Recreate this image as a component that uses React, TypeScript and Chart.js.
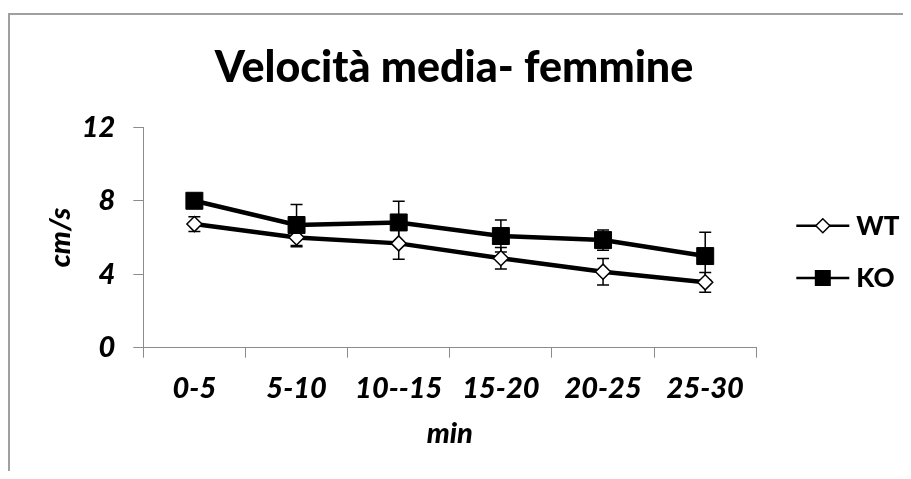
import React, { useEffect, useRef } from 'react';
import { Chart, registerables } from 'chart.js';

Chart.register(...registerables);

// ---- data ----
const categories = ['0-5', '5-10', '10--15', '15-20', '20-25', '25-30'];
const seriesNames = ['WT', 'KO'];
const wtValues = [6.73, 6.0, 5.68, 4.87, 4.14, 3.56];
const wtErrors = [0.4, 0.5, 0.87, 0.58, 0.72, 0.54];
const koValues = [8.0, 6.68, 6.82, 6.08, 5.86, 4.99];
const koErrors = [0.3, 1.12, 1.16, 0.87, 0.55, 1.3];
const yTickValues = [0, 4, 8, 12];
const titleText = 'Velocità media- femmine';
const xTitleText = 'min';
const yTitleText = 'cm/s';

const errorSets = [wtErrors, koErrors];

const AXIS_GRAY = '#8c8c8c';
const FONT = 'Lato';
const HEAVY = '900';

const errorBarPlugin = {
  id: 'errorBars',
  beforeDatasetsDraw(chart: any) {
    const ctx = chart.ctx;
    const yScale = chart.scales.y;
    ctx.save();
    ctx.strokeStyle = '#000';
    ctx.lineWidth = 1.5;
    chart.data.datasets.forEach((ds: any, di: number) => {
      const meta = chart.getDatasetMeta(di);
      const errs = errorSets[di];
      meta.data.forEach((pt: any, i: number) => {
        const v = ds.data[i];
        const e = errs[i];
        const top = yScale.getPixelForValue(v + e);
        const bot = yScale.getPixelForValue(v - e);
        const x = pt.x;
        ctx.beginPath();
        ctx.moveTo(x, top);
        ctx.lineTo(x, bot);
        ctx.moveTo(x - 6, top);
        ctx.lineTo(x + 6, top);
        ctx.moveTo(x - 6, bot);
        ctx.lineTo(x + 6, bot);
        ctx.stroke();
      });
    });
    ctx.restore();
  },
};

const sideLegendPlugin = {
  id: 'sideLegend',
  afterDraw(chart: any) {
    const ctx = chart.ctx;
    const s = chart.scales.legendSpace;
    const area = chart.chartArea;
    const cy = (area.top + area.bottom) / 2;
    const rows = [cy - 11.7, cy + 40.5];
    const x0 = s.left + 40;
    const x1 = x0 + 53;
    const mx = (x0 + x1) / 2;
    ctx.save();
    chart.data.datasets.forEach((ds: any, i: number) => {
      const yy = rows[i];
      ctx.strokeStyle = '#000';
      ctx.lineWidth = 2.5;
      ctx.beginPath();
      ctx.moveTo(x0, yy);
      ctx.lineTo(x1, yy);
      ctx.stroke();
      ctx.beginPath();
      if (ds.pointStyle === 'rectRot') {
        const r = 7;
        ctx.moveTo(mx - r, yy);
        ctx.lineTo(mx, yy - r);
        ctx.lineTo(mx + r, yy);
        ctx.lineTo(mx, yy + r);
        ctx.closePath();
        ctx.fillStyle = '#fff';
        ctx.fill();
        ctx.lineWidth = 1.5;
        ctx.stroke();
      } else {
        const h = 8;
        ctx.rect(mx - h, yy - h, 2 * h, 2 * h);
        ctx.fillStyle = '#000';
        ctx.fill();
      }
      ctx.fillStyle = '#000';
      ctx.font = `${HEAVY} 26px ${FONT}`;
      ctx.textBaseline = 'middle';
      ctx.textAlign = 'left';
      ctx.fillText(ds.label, x1 + 7, yy + 1);
    });
    ctx.restore();
  },
};

export default function App() {
  const ref = useRef<HTMLCanvasElement>(null);

  useEffect(() => {
    const tickFont = { family: FONT, size: 29, style: 'italic' as const, weight: HEAVY, lineHeight: 1.2 };
    const chart = new Chart(ref.current as HTMLCanvasElement, {
      type: 'line',
      data: {
        labels: categories,
        datasets: [
          {
            label: seriesNames[0],
            data: wtValues,
            borderColor: '#000',
            borderWidth: 4.5,
            pointStyle: 'rectRot',
            pointRadius: 7.5,
            pointBackgroundColor: '#fff',
            pointBorderColor: '#000',
            pointBorderWidth: 1.5,
            tension: 0,
            order: 1,
          },
          {
            label: seriesNames[1],
            data: koValues,
            borderColor: '#000',
            borderWidth: 4.5,
            pointStyle: 'rect',
            pointRadius: 12,
            pointBackgroundColor: '#000',
            pointBorderColor: '#000',
            pointBorderWidth: 1,
            tension: 0,
            order: 0,
          },
        ],
      },
      options: {
        animation: false,
        responsive: false,
        devicePixelRatio: 1,
        layout: { padding: { top: 0, right: 5, bottom: 0, left: 0 } },
        plugins: {
          legend: { display: false },
          tooltip: { enabled: false },
          title: {
            display: true,
            text: titleText,
            color: '#000',
            font: { family: FONT, size: 43, weight: HEAVY, lineHeight: 1.2 },
            padding: { top: 27, bottom: 33.7 },
          },
        },
        scales: {
          x: {
            type: 'category',
            offset: true,
            grid: { offset: true, drawOnChartArea: false, drawTicks: true, tickLength: 10, color: AXIS_GRAY, lineWidth: 1 },
            border: { display: true, color: AXIS_GRAY, width: 1 },
            ticks: { color: '#000', font: tickFont, padding: 13.3, maxRotation: 0, autoSkip: false },
            title: { display: true, text: xTitleText, color: '#000', font: tickFont, padding: { top: 0, bottom: 20 } },
            afterFit(scale: any) {
              scale.height = 123.3;
            },
          },
          y: {
            type: 'linear',
            position: 'left',
            min: 0,
            max: 12,
            afterBuildTicks(scale: any) {
              scale.ticks = yTickValues.map((v) => ({ value: v }));
            },
            grid: { drawOnChartArea: false, drawTicks: true, tickLength: 10, color: AXIS_GRAY, lineWidth: 1 },
            border: { display: true, color: AXIS_GRAY, width: 1 },
            ticks: { color: '#000', font: tickFont, padding: 18 },
            title: { display: true, text: yTitleText, color: '#000', font: tickFont, padding: { top: 33, bottom: 0 } },
            afterFit(scale: any) {
              scale.width = 133.3;
            },
          },
          legendSpace: {
            type: 'linear',
            position: 'right',
            display: true,
            grid: { display: false, drawTicks: false },
            border: { display: false },
            ticks: { display: false },
            afterFit(scale: any) {
              scale.width = 141.7;
            },
          },
        },
      },
      plugins: [errorBarPlugin, sideLegendPlugin],
    } as any);
    return () => chart.destroy();
  }, []);

  return (
    <div style={{ paddingTop: 5 }}>
      <div style={{ borderLeft: '2px solid #a0a0a0', borderTop: '2px solid #a0a0a0' }}>
        <canvas ref={ref} width={893} height={456} style={{ display: 'block', width: 893, height: 456 }} />
      </div>
    </div>
  );
}
